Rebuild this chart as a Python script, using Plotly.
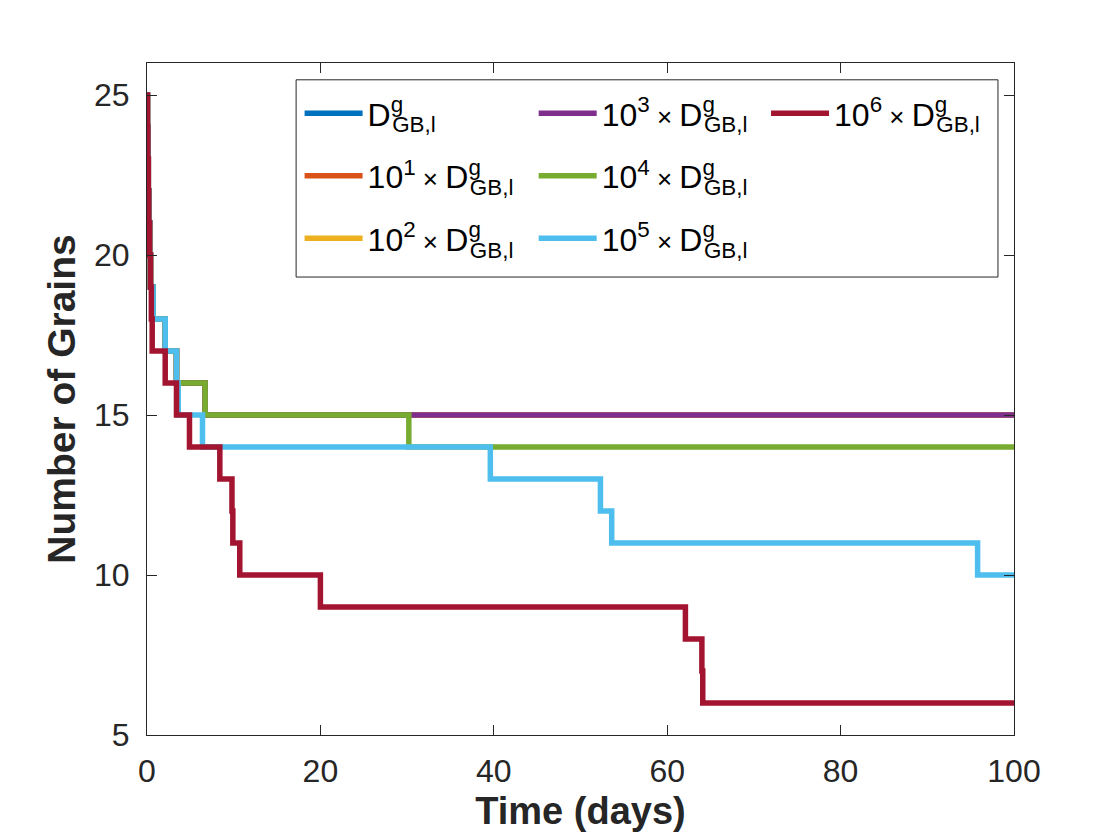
"""Number of grains over time for increasing grain-boundary diffusivity."""
import plotly.graph_objects as go

# Step data (time in days, number of grains).
# D, 10 D, 10^2 D and 10^3 D all follow the same path.
t_base = [0, 0.05, 0.1, 0.15, 0.2, 0.3, 0.4, 0.7, 2.1, 3.4, 6.7, 100]
n_base = [25, 24, 23, 22, 21, 20, 19, 18, 17, 16, 15, 15]

t_1e4 = [0, 0.05, 0.1, 0.15, 0.2, 0.3, 0.4, 0.7, 2.1, 3.4, 6.7, 30.2, 100]
n_1e4 = [25, 24, 23, 22, 21, 20, 19, 18, 17, 16, 15, 14, 14]

t_1e5 = [0, 0.05, 0.1, 0.15, 0.2, 0.3, 0.4, 0.7, 2.1, 3.4, 3.6, 6.4,
         39.6, 52.3, 53.6, 95.8, 100]
n_1e5 = [25, 24, 23, 22, 21, 20, 19, 18, 17, 16, 15, 14, 13, 12, 11, 10, 10]

t_1e6 = [0, 0.05, 0.1, 0.15, 0.2, 0.3, 0.4, 0.5, 0.6, 2.1, 3.4, 4.9, 8.4,
         9.8, 9.9, 10.7, 20.0, 62.1, 64.0, 64.1, 100]
n_1e6 = [25, 24, 23, 22, 21, 20, 19, 18, 17, 16, 15, 14, 13, 12, 11, 10,
         9, 8, 7, 6, 6]

# superscript g pulled back so the subscript sits under it, as in the original
DGB = 'D<sup><span style="letter-spacing:-11px">g</span></sup><sub>GB,l</sub>'
TIMES = '<span style="font-size:26px"> × </span>'
labels = [DGB,
          '10<sup>1</sup>' + TIMES + DGB,
          '10<sup>2</sup>' + TIMES + DGB,
          '10<sup>3</sup>' + TIMES + DGB,
          '10<sup>4</sup>' + TIMES + DGB,
          '10<sup>5</sup>' + TIMES + DGB,
          '10<sup>6</sup>' + TIMES + DGB]
colors = ['#0072BD', '#D95319', '#EDB120', '#7E2F8E', '#77AC30', '#4DBEEE', '#A2142F']
series = [(t_base, n_base), (t_base, n_base), (t_base, n_base), (t_base, n_base),
          (t_1e4, n_1e4), (t_1e5, n_1e5), (t_1e6, n_1e6)]
# which legend column each entry goes in
legend_ids = ['legend', 'legend', 'legend', 'legend2', 'legend2', 'legend2', 'legend3']

FONT = 'Liberation Sans'

fig = go.Figure()
for i, ((t, n), name, color, leg) in enumerate(zip(series, labels, colors, legend_ids)):
    # one group per trace so tracegroupgap spaces the rows out
    fig.add_trace(go.Scatter(x=t, y=n, mode='lines', name=name,
                             line=dict(color=color, width=5.5, shape='hv'),
                             legend=leg, legendgroup='g' + str(i)))

legend_style = dict(font=dict(family=FONT, size=32, color='black'),
                    bgcolor='rgba(0,0,0,0)', borderwidth=0,
                    itemwidth=58, xanchor='left', yanchor='top',
                    tracegroupgap=18)

axis_style = dict(showline=True, linecolor='#262626', linewidth=1,
                  mirror='ticks', ticks='inside', ticklen=10,
                  tickcolor='#262626', showgrid=False, zeroline=False,
                  automargin=False,
                  tickfont=dict(family=FONT, size=32, color='#262626'))

fig.update_layout(
    width=1104, height=824,
    paper_bgcolor='white', plot_bgcolor='white',
    margin=dict(l=139, r=98, t=55, b=97),
    xaxis=dict(range=[0, 100], tickvals=[0, 20, 40, 60, 80, 100],
               ticklabelstandoff=8,
               title=dict(text='<b>Time (days)</b>', standoff=23,
                          font=dict(family=FONT, size=38, color='#262626')),
               **axis_style),
    yaxis=dict(range=[5, 26], tickvals=[5, 10, 15, 20, 25],
               ticklabelstandoff=10,
               title=dict(text='<b>Number of Grains</b>', standoff=6,
                          font=dict(family=FONT, size=39, color='#262626')),
               **axis_style),
    legend=dict(x=0.176, y=0.966, **legend_style),
    legend2=dict(x=0.446, y=0.966, **legend_style),
    legend3=dict(x=0.714, y=0.966, **legend_style),
    shapes=[dict(type='rect', xref='paper', yref='paper',
                 x0=0.172, x1=0.9815, y0=0.6815, y1=0.975,
                 line=dict(color='#262626', width=1), fillcolor='rgba(0,0,0,0)')]
)

fig.write_html('out.html')
